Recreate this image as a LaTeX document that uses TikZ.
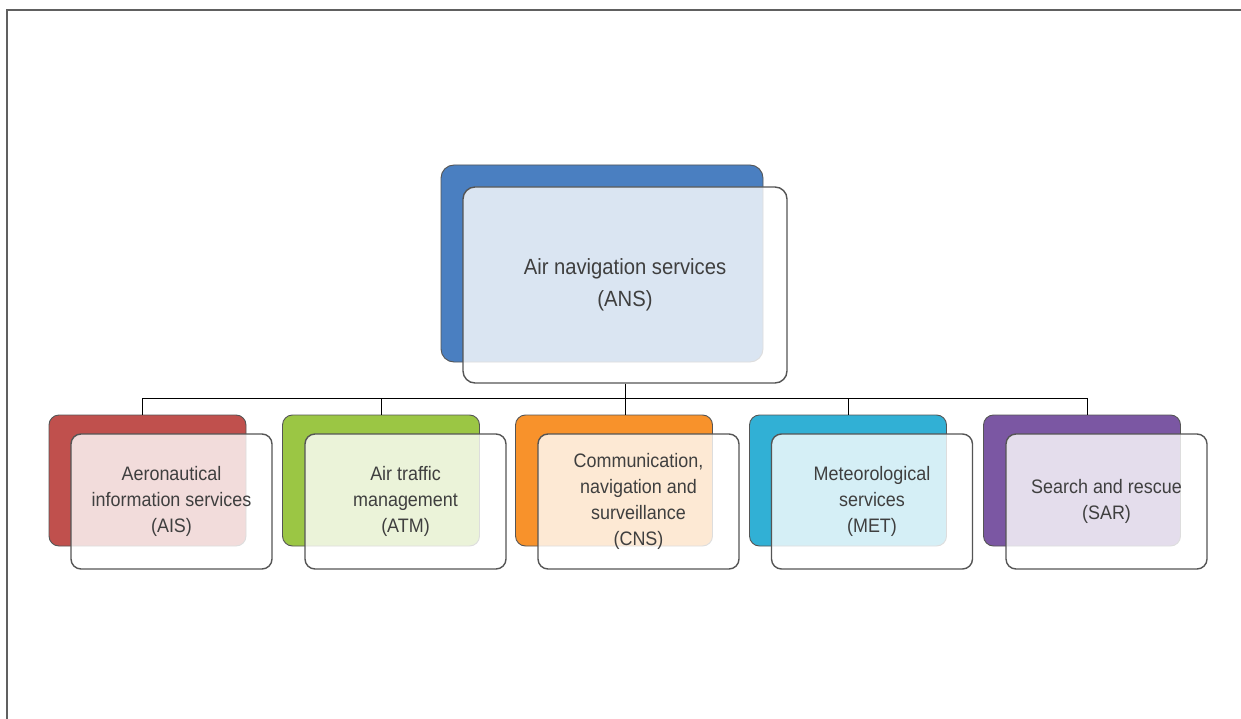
\documentclass[tikz,border=0pt]{standalone}
\usepackage{fontspec}
\setmainfont[FakeStretch=0.92]{Liberation Sans}
\definecolor{cAns}{HTML}{4A7FC1}
\definecolor{cAis}{HTML}{C0504D}
\definecolor{cAtm}{HTML}{9BC644}
\definecolor{cCns}{HTML}{F8922B}
\definecolor{cMet}{HTML}{31B0D5}
\definecolor{cSar}{HTML}{7B57A3}
\definecolor{edgegray}{HTML}{555555}
\definecolor{txtgray}{HTML}{3F3F3F}
\tikzset{
  backbox/.style={draw=edgegray, line width=0.9pt, fill=#1, rounded corners=10pt, inner sep=0pt,
    minimum width=197pt, minimum height=131pt},
  frontbox/.style={draw=edgegray, line width=1.4pt, fill=white, fill opacity=0.8, text opacity=1,
    draw opacity=1, rounded corners=10pt, inner sep=0pt, minimum width=201pt, minimum height=135pt,
    align=center, text=txtgray, font=\fontsize{19.5}{26}\selectfont},
  conn/.style={draw=black, line width=0.8pt},
  frame/.style={draw=gray!75!black, line width=1.4pt}
}
\begin{document}
\begin{tikzpicture}[x=1pt,y=-1pt]
\useasboundingbox (0,0) rectangle (1241,719);
\fill[white] (0,0) rectangle (1241,719);
\coordinate (fTL) at (7,10);
\coordinate (fTR) at (1241,10);
\coordinate (fBL) at (7,719);
\draw[frame] (fTR) -- (fTL) -- (fBL);

% top node
\node[backbox=cAns, minimum width=322pt, minimum height=197pt, rounded corners=13pt] (ansb) at (602,263.5) {};
\node[frontbox, minimum width=324pt, minimum height=196pt, rounded corners=12pt,
  font=\fontsize{22}{31.5}\selectfont] (ansf) at (625,285) {Air navigation services\\(ANS)};

% children back boxes
\node[backbox=cAis] (aisb) at (147.5,480.5) {};
\node[backbox=cAtm] (atmb) at (381,480.5) {};
\node[backbox=cCns] (cnsb) at (614,480.5) {};
\node[backbox=cMet] (metb) at (848,480.5) {};
\node[backbox=cSar] (sarb) at (1082,480.5) {};

% children front boxes
\node[frontbox] (aisf) at (171.5,501.5) {Aeronautical\\information services\\(AIS)};
\node[frontbox] (atmf) at (405.5,501.5) {Air traffic\\management\\(ATM)};
\node[frontbox] (cnsf) at (638.5,501.5) {Communication,\\navigation and\\surveillance\\(CNS)};
\node[frontbox] (metf) at (872,501.5) {Meteorological\\services\\(MET)};
\node[frontbox] (sarf) at (1106.5,501.5) {Search and rescue\\(SAR)};

% connectors
\coordinate (busL) at (142,398);
\coordinate (busR) at (1087,398);
\draw[conn] (busL) -- (busR);
\draw[conn] (ansf.south) -- (ansf.south |- busL);
\draw[conn] (busL) -- (busL |- aisb.north);
\draw[conn] (atmb.north |- busL) -- (atmb.north);
\draw[conn] (ansf.south |- busL) -- (ansf.south |- cnsb.north);
\draw[conn] (metb.north |- busL) -- (metb.north);
\draw[conn] (busR) -- (busR |- sarb.north);
\end{tikzpicture}
\end{document}
